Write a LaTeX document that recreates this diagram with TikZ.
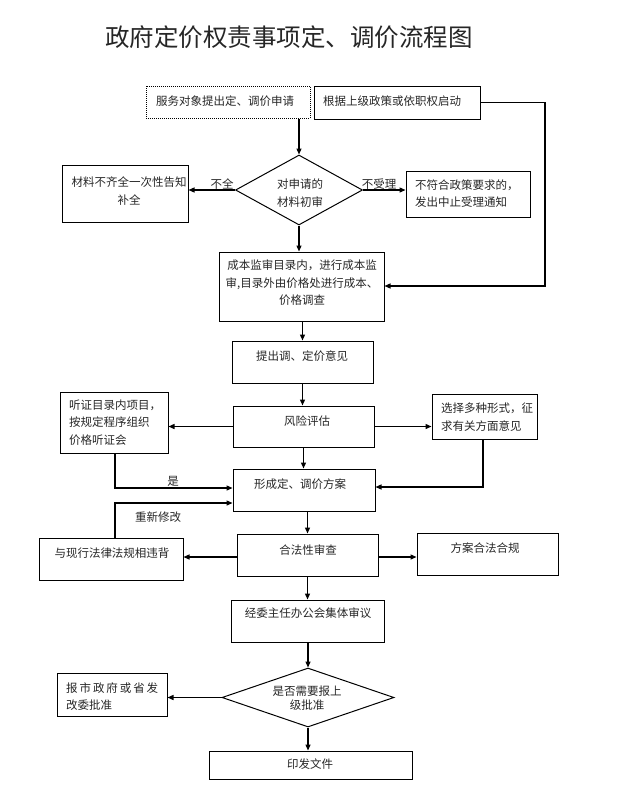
\documentclass[tikz,border=0pt]{standalone}
\usepackage{fontspec}
\setmainfont{Noto Sans CJK SC}
\usetikzlibrary{arrows.meta,shapes.geometric}
\begin{document}
\begin{tikzpicture}[x=1pt,y=-1pt,
  box/.style={draw, line width=1pt, inner sep=0pt},
  dbox/.style={box, densely dotted},
  dia/.style={draw, line width=1pt, diamond, inner sep=0pt},
  txt/.style={font=\fontsize{11.5}{17.5}\selectfont, text=black!85, inner sep=0pt},
  arr/.style={line width=1.3pt, -{Triangle[length=6pt,width=5pt]}}]
\useasboundingbox (0,0) rectangle (619,812);
% title
\node[font=\fontsize{24.5}{30}\selectfont, text=black!85, inner sep=0pt] (title) at (289,37) {政府定价权责事项定、调价流程图};
% boxes
\node[dbox,minimum width=164pt,minimum height=32pt] (apply) at (228,102) {};
\node[txt] (tapply) at (225,101) {服务对象提出定、调价申请};
\node[box,minimum width=166pt,minimum height=33pt] (start) at (397,102.5) {};
\node[txt] (tstart) at (392,101) {根据上级政策或依职权启动};
\node[dia,minimum width=127pt,minimum height=70pt] (d1) at (299,190) {};
\node[txt,align=center] (td1) at (300,193) {对申请的\\材料初审};
\node[box,minimum width=126pt,minimum height=57pt] (inc) at (125,193.5) {};
\node[txt,align=center] (tinc) at (129,191) {材料不齐全一次性告知\\补全};
\node[box,minimum width=124pt,minimum height=46pt] (rej) at (468,194) {};
\node[txt,align=left,anchor=west] (trej) at (415,193.5) {不符合政策要求的，\\发出中止受理通知};
\node[box,minimum width=165pt,minimum height=69pt] (cost) at (301.5,286.5) {};
\node[txt,align=center] (tcost) at (302,283) {成本监审目录内，进行成本监\\审,目录外由价格处进行成本、\\价格调查};
\node[box,minimum width=141pt,minimum height=42pt] (prop) at (302.5,362) {};
\node[txt] (tprop) at (302,356) {提出调、定价意见};
\node[box,minimum width=141pt,minimum height=41pt] (risk) at (303.5,426.5) {};
\node[txt] (trisk) at (307,421) {风险评估};
\node[box,minimum width=108pt,minimum height=61pt] (hear) at (114,422.5) {};
\node[txt,align=left,anchor=west] (thear) at (69,422.5) {听证目录内项目，\\按规定程序组织\\价格听证会};
\node[box,minimum width=105pt,minimum height=45pt] (sol) at (484.5,416.5) {};
\node[txt,align=left,anchor=west] (tsol) at (441,417) {选择多种形式，征\\求有关方面意见};
\node[box,minimum width=142pt,minimum height=42pt] (form) at (304,490) {};
\node[txt] (tform) at (300,484) {形成定、调价方案};
\node[box,minimum width=144pt,minimum height=42pt] (conf) at (111,559) {};
\node[txt] (tconf) at (112,553) {与现行法律法规相违背};
\node[box,minimum width=141pt,minimum height=42pt] (legal) at (307.5,555) {};
\node[txt] (tlegal) at (308,550) {合法性审查};
\node[box,minimum width=141pt,minimum height=42pt] (comp) at (487.5,554) {};
\node[txt] (tcomp) at (485,548) {方案合法合规};
\node[box,minimum width=153pt,minimum height=42pt] (comm) at (307.5,621) {};
\node[txt] (tcomm) at (308,613) {经委主任办公会集体审议};
\node[dia,minimum width=172pt,minimum height=59pt] (d2) at (308,697.5) {};
\node[txt,align=center,font=\fontsize{11.5}{14}\selectfont] (td2) at (307,698.5) {是否需要报上\\级批准};
\node[box,minimum width=110pt,minimum height=43pt] (rep) at (112,694.5) {};
\node[txt,align=left,anchor=west] (trep) at (66,696.5) {报\,市\,政\,府\,或\,省\,发\\改委批准};
\node[box,minimum width=203pt,minimum height=28pt] (pub) at (310.5,765) {};
\node[txt] (tpub) at (310,764) {印发文件};
% labels
\node[txt] (lbq) at (222,184) {不全};
\node[txt] (lbr) at (379,184) {不受理};
\node[txt] (lyes) at (173,481) {是};
\node[txt] (lmod) at (158,517) {重新修改};
% connectors
\draw[arr] (apply.south -| d1.north) -- (d1.north);
\draw[arr] (d1.west) -- (d1.west -| inc.east);
\draw[arr] (d1.east) -- (d1.east -| rej.west);
\draw[arr] (d1.south) -- (d1.south |- cost.north);
\coordinate (c1) at (545,286);
\draw[arr] (start.east) -| (c1) -- (c1 -| cost.east);
\draw[arr] (cost.south -| prop.north) -- (prop.north);
\draw[arr] (prop.south) -- (prop.south |- risk.north);
\draw[arr] (risk.west) -- (risk.west -| hear.east);
\draw[arr] (risk.east) -- (risk.east -| sol.west);
\draw[arr] (risk.south) -- (risk.south |- form.north);
\coordinate (h1) at (115,488);
\draw[arr] (h1 |- hear.south) -- (h1) -- (h1 -| form.west);
\coordinate (s1) at (483,487);
\draw[arr] (s1 |- sol.south) -- (s1) -- (s1 -| form.east);
\coordinate (m1) at (115,503);
\draw[arr] (m1 |- conf.north) -- (m1) -- (m1 -| form.west);
\draw[arr] (form.south -| legal.north) -- (legal.north);
\coordinate (l1) at (0,557);
\draw[arr] (l1 -| legal.west) -- (l1 -| conf.east);
\draw[arr] (l1 -| legal.east) -- (l1 -| comp.west);
\draw[arr] (legal.south -| comm.north) -- (comm.north);
\draw[arr] (comm.south -| d2.north) -- (d2.north);
\draw[arr] (d2.west) -- (d2.west -| rep.east);
\draw[arr] (d2.south) -- (d2.south |- pub.north);
\end{tikzpicture}
\end{document}
